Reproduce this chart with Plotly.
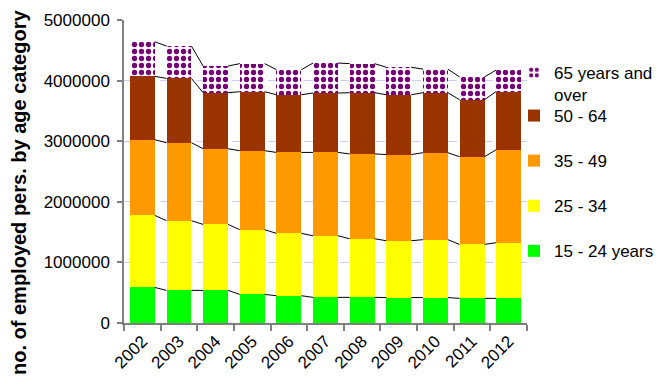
import plotly.graph_objects as go

# Employed persons by age category, 2002-2012
years = ["2002", "2003", "2004", "2005", "2006", "2007", "2008", "2009", "2010", "2011", "2012"]
age_15_24 = [587000, 538000, 538000, 472000, 450000, 423000, 423000, 420000, 420000, 406000, 406000]
age_25_34 = [1189000, 1150000, 1089000, 1068000, 1029000, 1017000, 967000, 938000, 955000, 891000, 919000]
age_35_49 = [1249000, 1287000, 1249000, 1303000, 1336000, 1375000, 1400000, 1422000, 1435000, 1447000, 1535000]
age_50_64 = [1045000, 1061000, 924000, 974000, 952000, 980000, 1010000, 987000, 990000, 941000, 960000]
age_65_over = [570000, 534000, 440000, 463000, 413000, 495000, 480000, 453000, 390000, 375000, 355000]

y_ticks = [0, 1000000, 2000000, 3000000, 4000000, 5000000]

series = [
    ("15 - 24 years", age_15_24, "#00ff00"),
    ("25 - 34", age_25_34, "#ffff00"),
    ("35 - 49", age_35_49, "#ff9900"),
    ("50 - 64", age_50_64, "#993300"),
    ("65 years and<br>over", age_65_over, "#800080"),
]

BAR_W = 0.68
xs = list(range(len(years)))
n = len(series)

fig = go.Figure()
for i, (name, vals, col) in enumerate(series):
    marker = dict(color=col, line=dict(width=0))
    legend = "legend2"
    if i == n - 1:
        legend = "legend"
        marker = dict(
            color="white",
            line=dict(width=0),
            pattern=dict(shape=".", fgcolor="#760076", bgcolor="white",
                         size=7, solidity=0.45, fillmode="replace"),
        )
    fig.add_trace(go.Bar(x=xs, y=vals, name=name, marker=marker,
                         width=BAR_W, legend=legend, legendrank=n - i,
                         legendgroup=name))

# Series lines joining the top of each stacked segment across the gaps
cum = [0] * len(years)
for name, vals, col in series:
    cum = [c + v for c, v in zip(cum, vals)]
    lx, ly = [], []
    for j in range(len(years) - 1):
        lx += [xs[j] + BAR_W / 2, xs[j + 1] - BAR_W / 2, None]
        ly += [cum[j], cum[j + 1], None]
    fig.add_trace(go.Scatter(x=lx, y=ly, mode="lines", showlegend=False,
                             hoverinfo="skip",
                             line=dict(color="black", width=1)))

font_family = "Liberation Sans, Arial, sans-serif"
legend_x = (514 - 124) / 403

fig.update_layout(
    width=656, height=391,
    barmode="stack",
    bargap=1 - BAR_W,
    plot_bgcolor="white", paper_bgcolor="white",
    margin=dict(l=124, r=129, t=20, b=68, autoexpand=False),
    font=dict(family=font_family, size=17, color="black"),
    legend=dict(
        x=legend_x, xanchor="left", y=(323 - 55) / 303, yanchor="top",
        font=dict(size=17, color="black"), valign="top",
        bgcolor="rgba(0,0,0,0)",
    ),
    legend2=dict(
        traceorder="grouped",
        x=legend_x, xanchor="left", y=(323 - 98) / 303, yanchor="top",
        font=dict(size=17, color="black"),
        tracegroupgap=20, valign="top",
        bgcolor="rgba(0,0,0,0)",
    ),
    xaxis=dict(
        range=[-0.5, len(years) - 0.5],
        tickvals=xs, ticktext=years, tickangle=-45,
        ticks="", showgrid=False, zeroline=False,
        showline=True, linecolor="#808080", linewidth=1.5,
        tickfont=dict(size=17),
        minor=dict(tickvals=[x - 0.5 for x in xs] + [len(years) - 0.5],
                   ticks="outside", ticklen=6, tickcolor="#808080",
                   tickwidth=1.5, showgrid=False),
    ),
    yaxis=dict(
        range=[0, 5000000],
        tickvals=y_ticks, ticktext=[str(v) for v in y_ticks],
        ticks="outside", ticklen=5, tickcolor="#808080", tickwidth=1.5,
        ticklabelstandoff=4,
        showline=True, linecolor="#808080", linewidth=1.5,
        showgrid=True, gridcolor="#ccccff", griddash="dash", gridwidth=1,
        zeroline=False, tickfont=dict(size=17),
    ),
    annotations=[dict(
        text="<b>no. of employed pers. by age category</b>",
        xref="paper", yref="paper",
        x=-(124 - 19) / 403, y=(323 - 193) / 303,
        xanchor="center", yanchor="middle", textangle=-90,
        showarrow=False, font=dict(size=20, color="black"),
    )],
)

fig.write_html("out.html")
